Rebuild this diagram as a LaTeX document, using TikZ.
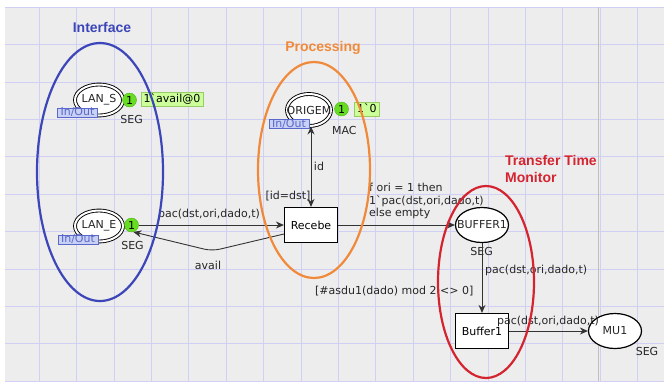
\documentclass[tikz,border=0pt]{standalone}
\usepackage{fontspec}
\newfontfamily\cpn{DejaVu Sans}
\newfontfamily\grp{Liberation Sans}
\usetikzlibrary{shapes.geometric,arrows.meta}
\definecolor{bgc}{HTML}{EDEDED}
\definecolor{gridc}{HTML}{D0D0F4}
\definecolor{ifblue}{HTML}{3C46B8}
\definecolor{proc}{HTML}{F08A3A}
\definecolor{tred}{HTML}{D42430}
\definecolor{tokg}{HTML}{66DD22}
\definecolor{tokb}{HTML}{CCFF99}
\definecolor{tokbd}{HTML}{99CC66}
\definecolor{iofill}{HTML}{C8D0F4}
\definecolor{iobd}{HTML}{5A68CC}
\definecolor{arcc}{HTML}{333333}
\begin{document}
\begin{tikzpicture}[x=1pt,y=-1pt,
  txt/.style={font=\cpn\fontsize{11}{12.5}\selectfont, text=black!85, inner sep=0pt},
  port/.style={ellipse, draw=black, line width=0.9pt, double=white, double distance=2pt, fill=white, inner sep=0pt},
  place/.style={ellipse, draw=black, line width=1.2pt, fill=white, minimum width=53pt, minimum height=35pt, inner sep=0pt},
  trans/.style={rectangle, draw=black, line width=1.2pt, fill=white, minimum width=53pt, minimum height=35pt, inner sep=0pt, font=\cpn\fontsize{11}{12.5}\selectfont},
  tok/.style={circle, fill=tokg, draw=tokg!80!black, line width=0.4pt, minimum size=14pt, inner sep=0pt, font=\cpn\fontsize{11}{12.5}\selectfont},
  tokbox/.style={rectangle, fill=tokb, draw=tokbd, line width=0.6pt, inner xsep=2.5pt, inner ysep=1.5pt, text height=8.5pt, text depth=2pt, font=\cpn\fontsize{11}{12.5}\selectfont},
  iotag/.style={rectangle, fill=iofill, draw=iobd, line width=0.7pt, text=iobd, inner xsep=3pt, inner ysep=0.3pt, text height=7.5pt, text depth=1.2pt, font=\cpn\fontsize{11}{12.5}\selectfont},
  arc/.style={draw=arcc, line width=0.9pt, -{Stealth[length=8pt,width=7pt]}},
  grpl/.style={font=\grp\bfseries\fontsize{14}{17}\selectfont, inner sep=0pt},
  grpe/.style={line width=2.2pt}
]
\useasboundingbox (0,0) rectangle (664,381);
\fill[white] (0,0) rectangle (664,381);
\fill[bgc] (5,7) rectangle (664,381);
\foreach \i in {0,...,16} \draw[gridc, line width=1pt] ({39.3+37.4*\i},7) -- ({39.3+37.4*\i},381);
\foreach \j in {0,...,10} \draw[gridc, line width=1pt] (5,{7.3+37.4*\j}) -- (664,{7.3+37.4*\j});
\draw[black!25, line width=0.8pt] (598.3,7) -- (598.3,381);

% places and transitions
\node[port, minimum width=48pt, minimum height=31pt, label={[txt]center:LAN\_S}] (lans) at (99,100) {};
\node[port, minimum width=48pt, minimum height=31pt, label={[txt]center:LAN\_E}] (lane) at (99,226) {};
\node[port, minimum width=44pt, minimum height=32pt, label={[txt]center:ORIGEM}] (origem) at (309,110) {};
\node[trans] (recebe) at (311,225) {Recebe};
\node[place, label={[txt]center:BUFFER1}] (bufA) at (482,225) {};
\node[trans] (bufT) at (482,331) {Buffer1};
\node[place, label={[txt]center:MU1}] (mu) at (615,331) {};

% port tags
\node[iotag] (ioS) at (77.5,112.7) {In/Out};
\node[iotag] (ioE) at (78,239.5) {In/Out};
\node[iotag] (ioO) at (289,124) {In/Out};

% tokens
\node[tok] (tokS) at (129.5,100) {1};
\node[tok] (tokE) at (131.5,225) {1};
\node[tok] (tokO) at (341.5,109) {1};
\node[tokbox] (mS) at (172,99.5) {1`avail@0};
\node[tokbox] (mO) at (366.8,109.5) {1`0};

% colour sets
\node[txt] (sS) at (131.7,119.5) {SEG};
\node[txt] (sE) at (132.5,245) {SEG};
\node[txt] (sO) at (344.3,130) {MAC};
\node[txt] (sB) at (481.7,251.7) {SEG};
\node[txt] (sM) at (647,351.7) {SEG};

% arcs
\draw[arc] (tokE.east) -- (recebe.west);
\coordinate (av) at (212,251);
\draw[arc, rounded corners=8pt] ([yshift=-9pt]recebe.west) -- (av) -- (tokE.-75);
\draw[arc, {Stealth[length=8pt,width=7pt]}-{Stealth[length=8pt,width=7pt]}] (origem.south -| recebe.north) -- (recebe.north);
\draw[arc] (recebe.east) -- (bufA.west);
\draw[arc] (bufA.south) -- (bufT.north);
\draw[arc] (bufT.east) -- (mu.west);

% arc inscriptions and guards
\node[txt] (l1) at (209,214) {pac(dst,ori,dado,t)};
\node[txt] (l2) at (208,265) {avail};
\node[txt] (l3) at (319,166.5) {id};
\node[txt] (g1) at (288,196) {[id=dst]};
\node[txt, align=left, anchor=west] (l4) at (369,201) {f ori = 1 then\\1`pac(dst,ori,dado,t)\\else empty};
\node[txt, anchor=west] (l5) at (485,270) {pac(dst,ori,dado,t)};
\node[txt, anchor=west] (g2) at (315,291) {[\#asdu1(dado) mod 2 <> 0]};
\node[txt] (l6) at (548,321) {pac(dst,ori,dado,t)};

% groups
\draw[grpe, ifblue] (100,172) ellipse [x radius=63pt, y radius=129pt];
\draw[grpe, proc] (314,170) ellipse [x radius=56pt, y radius=108pt];
\draw[grpe, tred] (486,282) ellipse [x radius=48pt, y radius=96pt];
\node[grpl, text=ifblue] (lint) at (102,27) {Interface};
\node[grpl, text=proc] (lproc) at (323,48) {Processing};
\node[grpl, text=tred, align=left, anchor=west] (ltr) at (505,168.5) {Transfer Time\\Monitor};
\end{tikzpicture}
\end{document}
